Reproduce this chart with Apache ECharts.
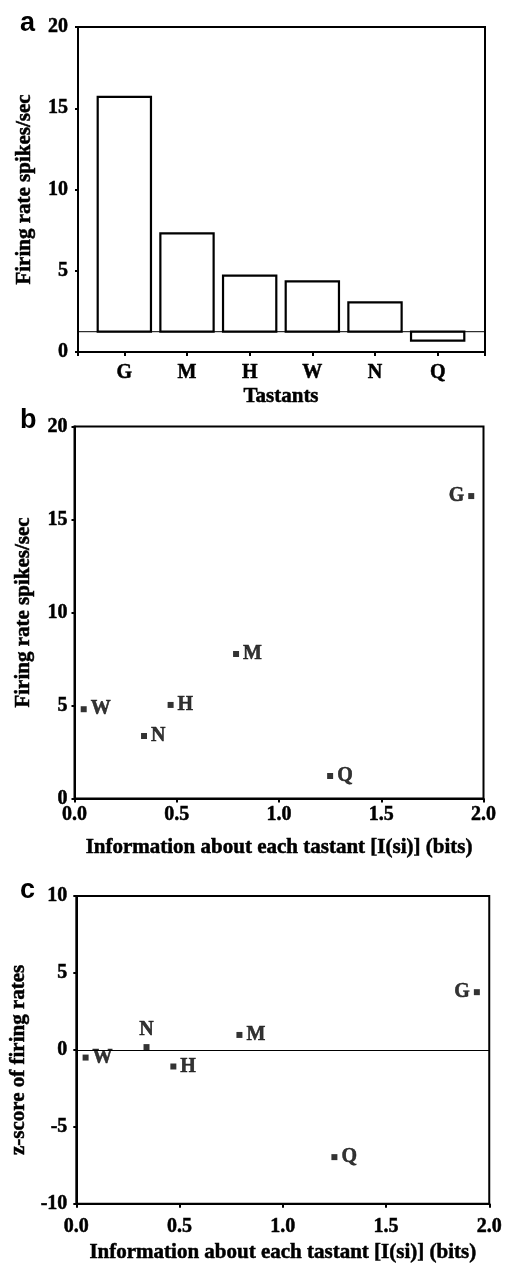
<!DOCTYPE html>
<html>
<head>
<meta charset="utf-8">
<script src="https://cdn.jsdelivr.net/npm/echarts@6/dist/echarts.min.js"></script>
<style>
  html, body { margin: 0; padding: 0; background: #fff; }
  #chart { width: 505px; height: 1264px; }
</style>
</head>
<body>
<div id="chart"></div>
<script>
// Tastants, in the order used by the bar panel
const tastants = ['G', 'M', 'H', 'W', 'N', 'Q'];
// Mean firing rate for each tastant (spikes/sec)
const meanRates = [15.7, 7.3, 4.7, 4.35, 3.05, 0.7];
// Spontaneous (baseline) firing rate the bars rise from
const spontaneousRate = 1.25;
// Information carried about each tastant, I(si), in bits
const infoBits = [1.94, 0.79, 0.47, 0.045, 0.34, 1.25];
// Firing rate plotted against information (spikes/sec)
const rateByInfo = [16.26, 7.77, 5.03, 4.8, 3.36, 1.21];
// z-score of the firing rates
const zScores = [3.75, 0.97, -1.08, -0.5, 0.18, -6.97];

// Axis ranges and tick steps
const rateAxis = { min: 0, max: 20, step: 5 };
const infoAxis = { min: 0, max: 2, step: 0.5 };
const zAxis = { min: -10, max: 10, step: 5 };

// Which side of its marker each letter sits on (default: right)
const labelSideB = { G: 'left' };
const labelSideC = { G: 'left', N: 'top' };

const SERIF = 'Liberation Serif';
const black = '#000';
// a hairline outline in the text colour gives the heavy print look
const heavy = { textBorderColor: black, textBorderWidth: 0.5 };

const tickLabel = (margin, extra) => Object.assign({
  color: black, fontFamily: SERIF, fontWeight: 'bold', fontSize: 20, margin: margin
}, heavy, extra || {});
const nameStyle = (extra) => Object.assign({
  color: black, fontFamily: SERIF, fontWeight: 'bold', fontSize: 21
}, heavy, extra || {});
const axisLine = { show: true, onZero: false, lineStyle: { color: black, width: 2 } };
const axisTick = (len) => ({ show: true, length: len, lineStyle: { color: black, width: 2 } });
const frame = { show: true, borderColor: black, borderWidth: 2, backgroundColor: 'transparent' };

function scatterData(ys, sides) {
  return tastants.map((t, i) => {
    const item = { name: t, value: [infoBits[i], ys[i]] };
    if (sides[t]) item.label = { position: sides[t] };
    return item;
  });
}

const pointLabel = Object.assign({
  show: true, position: 'right', distance: 4, formatter: '{b}',
  color: black, fontFamily: SERIF, fontWeight: 'bold', fontSize: 20
}, heavy);

const letterStyle = { fontFamily: 'Liberation Sans', fontWeight: 'bold', fontSize: 27, color: black };

const chart = echarts.init(document.getElementById('chart'), null, { renderer: 'canvas' });

chart.setOption({
  backgroundColor: '#fff',
  animation: false,
  title: [
    { text: 'a', left: 15, top: 5, textStyle: letterStyle },
    { text: 'b', left: 15, top: 402, textStyle: letterStyle },
    { text: 'c', left: 15, top: 872, textStyle: letterStyle }
  ],
  grid: [
    // panel a: frame and rate axis
    Object.assign({ left: 78, right: 20, top: 27, height: 325 }, frame),
    // panel a: category band for the bars
    { left: 93, right: 36, top: 27, height: 325, show: false },
    // panel b
    Object.assign({ left: 74.5, width: 409, top: 426.5, height: 372 }, frame),
    // panel c
    Object.assign({ left: 74, width: 416.7, top: 896, height: 308 }, frame)
  ],
  xAxis: [
    { gridIndex: 0, type: 'value', min: 0, max: 1, interval: 1,
      axisLine: axisLine, axisTick: axisTick(4), axisLabel: { show: false }, splitLine: { show: false } },
    { gridIndex: 1, type: 'category', data: tastants, boundaryGap: true,
      axisLine: { show: false, onZero: false }, axisTick: Object.assign(axisTick(4), { alignWithLabel: true }),
      axisLabel: tickLabel(11), splitLine: { show: false },
      name: 'Tastants', nameLocation: 'middle', nameGap: 34, nameTextStyle: nameStyle() },
    { gridIndex: 2, type: 'value', min: infoAxis.min, max: infoAxis.max, interval: infoAxis.step,
      axisLine: axisLine, axisTick: axisTick(4),
      axisLabel: tickLabel(6, { formatter: v => v.toFixed(1) }), splitLine: { show: false },
      name: 'Information about each tastant [I(si)] (bits)', nameLocation: 'middle', nameGap: 39,
      nameTextStyle: nameStyle() },
    { gridIndex: 3, type: 'value', min: infoAxis.min, max: infoAxis.max, interval: infoAxis.step,
      axisLine: axisLine, axisTick: axisTick(4),
      axisLabel: tickLabel(13, { formatter: v => v.toFixed(1) }), splitLine: { show: false },
      name: 'Information about each tastant [I(si)] (bits)', nameLocation: 'middle', nameGap: 38,
      nameTextStyle: nameStyle() }
  ],
  yAxis: [
    { gridIndex: 0, type: 'value', min: rateAxis.min, max: rateAxis.max, interval: rateAxis.step,
      axisLine: axisLine, axisTick: axisTick(3), axisLabel: tickLabel(10), splitLine: { show: false },
      name: 'Firing rate spikes/sec', nameLocation: 'middle', nameGap: 43, nameTextStyle: nameStyle() },
    { gridIndex: 1, type: 'value', min: rateAxis.min, max: rateAxis.max, show: false },
    { gridIndex: 2, type: 'value', min: rateAxis.min, max: rateAxis.max, interval: rateAxis.step,
      axisLine: axisLine, axisTick: axisTick(3), axisLabel: tickLabel(7), splitLine: { show: false },
      name: 'Firing rate spikes/sec', nameLocation: 'middle', nameGap: 40, nameTextStyle: nameStyle() },
    { gridIndex: 3, type: 'value', min: zAxis.min, max: zAxis.max, interval: zAxis.step,
      axisLine: axisLine, axisTick: axisTick(3), axisLabel: tickLabel(9), splitLine: { show: false },
      name: 'z-score of firing rates', nameLocation: 'middle', nameGap: 36,
      nameTextStyle: nameStyle({ padding: [0, 20, 0, 0] }) }
  ],
  series: [
    // spontaneous rate line across the whole bar panel
    { type: 'line', xAxisIndex: 0, yAxisIndex: 0, silent: true, symbol: 'none',
      lineStyle: { color: black, width: 1 },
      data: [[0, spontaneousRate], [1, spontaneousRate]] },
    // bars drawn from the spontaneous rate up (or down) to each mean rate
    { type: 'custom', xAxisIndex: 1, yAxisIndex: 1, silent: true,
      data: tastants.map((t, i) => [i, meanRates[i]]),
      renderItem: function (params, api) {
        const idx = api.value(0);
        const top = api.coord([idx, api.value(1)]);
        const base = api.coord([idx, spontaneousRate]);
        const w = api.size([1, 0])[0] * 0.85;
        return {
          type: 'rect',
          shape: { x: top[0] - w / 2, y: Math.min(top[1], base[1]), width: w, height: Math.abs(base[1] - top[1]) },
          style: { fill: '#fff', stroke: black, lineWidth: 2.2 }
        };
      } },
    // panel b: rate vs information
    { type: 'scatter', xAxisIndex: 2, yAxisIndex: 2, symbol: 'rect', symbolSize: 6,
      itemStyle: { color: black }, label: pointLabel,
      data: scatterData(rateByInfo, labelSideB) },
    // panel c: z-score vs information
    { type: 'scatter', xAxisIndex: 3, yAxisIndex: 3, symbol: 'rect', symbolSize: 6,
      itemStyle: { color: black }, label: pointLabel,
      data: scatterData(zScores, labelSideC),
      markLine: { silent: true, symbol: 'none', label: { show: false },
        lineStyle: { color: black, width: 1, type: 'solid' },
        data: [{ yAxis: 0 }] } }
  ]
});
</script>
</body>
</html>
